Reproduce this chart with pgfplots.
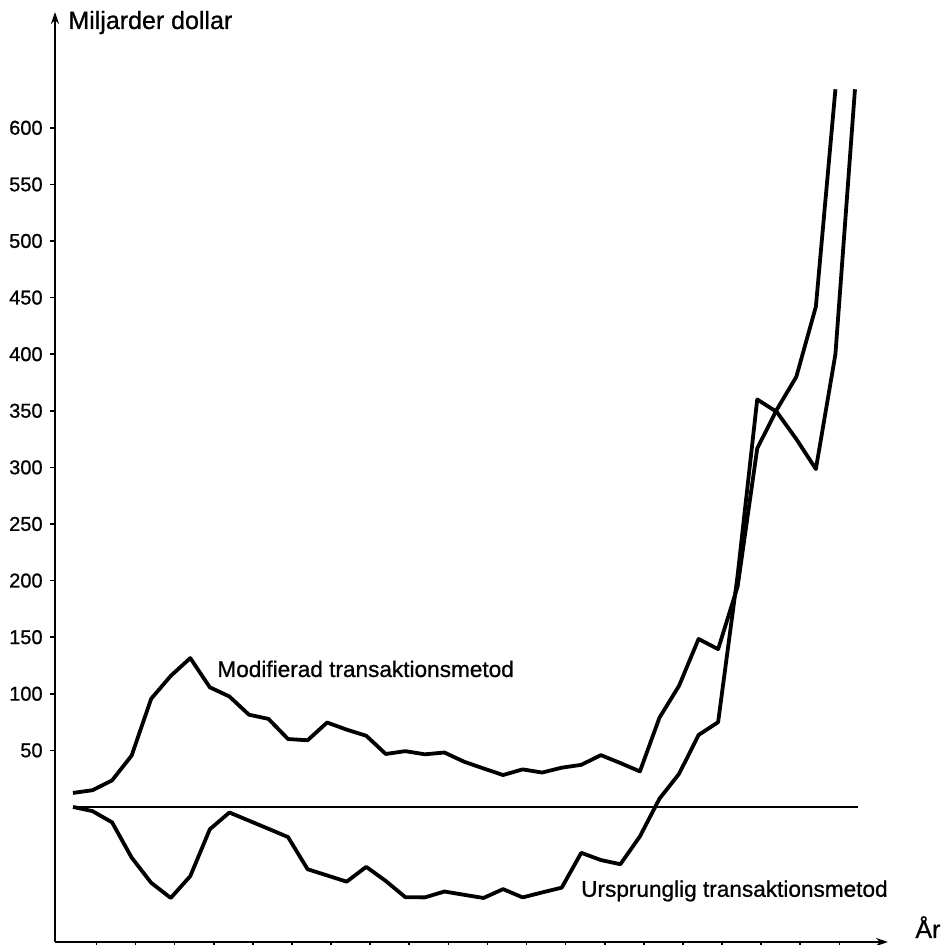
\documentclass[border=0pt]{standalone}
\usepackage{fontspec}
\setmainfont{Liberation Sans}
\newfontfamily\medfont[FakeBold=0.9]{Liberation Sans}
\usepackage{pgfplots}
\pgfplotsset{compat=1.18}
\usetikzlibrary{arrows.meta}
\begin{document}
\begin{tikzpicture}
\useasboundingbox (-27.5pt,-1.5pt) rectangle (443.5pt,471pt);
\begin{axis}[
  at={(0pt,0pt)}, anchor=south west,
  scale only axis, width=416.5pt, height=465pt,
  xmin=-0.92, xmax=41.69, ymin=-119.3, ymax=702.3,
  axis lines=left,
  axis line style={line width=1.4pt, -{Stealth[length=6pt,width=4pt]}},
  xtick={1.2,3.2,5.2,7.2,9.2,11.2,13.2,15.2,17.2,19.2,21.2,23.2,25.2,27.2,29.2,31.2,33.2,35.2,37.2,39.2},
  xticklabels={},
  ytick={50,100,150,200,250,300,350,400,450,500,550,600},
  tick align=outside,
  major tick length=2.5pt,
  tick style={line width=0.8pt, black},
  yticklabel style={font=\medfont\fontsize{10}{12}\selectfont, inner sep=0pt, xshift=-3.5pt},
  /pgf/number format/assume math mode=true,
  clip=false,
]
% zero line
\addplot[black, line width=1pt] coordinates {(0,0) (40.15,0)};
% Modifierad transaktionsmetod
\addplot[black, line width=1.9pt, line join=round] coordinates {
(0,12.4) (1,14.8) (2,23.5) (3,45.4) (4,95.6) (5,115.8) (6,131.5) (7,105.7)
(8,97.6) (9,81.5) (10,77.8) (11,60.0) (12,58.9) (13,74.6) (14,68.3) (15,62.9)
(16,46.8) (17,49.3) (18,46.5) (19,48.1) (20,40) (21,34) (22,28.2) (23,33.2)
(24,30.4) (25,34.7) (26,37.2) (27,45.8) (28,38.8) (29,31.4) (30,78.9) (31,107)
(32,148.4) (33,139.4) (34,194.9) (35,316.7) (36,351) (37,380) (38,442) (39,634)
};
% Ursprunglig transaktionsmetod
\addplot[black, line width=1.9pt, line join=round] coordinates {
(0,0) (1,-3.7) (2,-13.6) (3,-44.7) (4,-67) (5,-80.4) (6,-61.1) (7,-19.7)
(8,-4.9) (9,-12.1) (10,-19.3) (11,-26.6) (12,-55) (13,-60.5) (14,-66) (15,-52.9)
(16,-65.4) (17,-79.7) (18,-79.9) (19,-74.7) (20,-77.6) (21,-80.4) (22,-72.6) (23,-79.9)
(24,-75.5) (25,-71.3) (26,-40.5) (27,-46.9) (28,-50.6) (29,-26) (30,7.3) (31,29.2)
(32,63.6) (33,74.9) (34,205) (35,360) (36,349) (37,325) (38,298.5) (39,400) (40,634)
};
\end{axis}
\node[anchor=base west, inner sep=0pt, font=\medfont\fontsize{12.5}{14}\selectfont] at (6.5pt,456.5pt) {Miljarder dollar};
\node[anchor=base west, inner sep=0pt, font=\medfont\fontsize{11.3}{13}\selectfont] at (81pt,132.5pt) {Modifierad transaktionsmetod};
\node[anchor=base west, inner sep=0pt, font=\medfont\fontsize{11.3}{13}\selectfont] at (262.9pt,22.6pt) {Ursprunglig transaktionsmetod};
\node[anchor=base west, inner sep=0pt, font=\medfont\fontsize{12.5}{14}\selectfont] at (430pt,2pt) {År};
\end{tikzpicture}
\end{document}
